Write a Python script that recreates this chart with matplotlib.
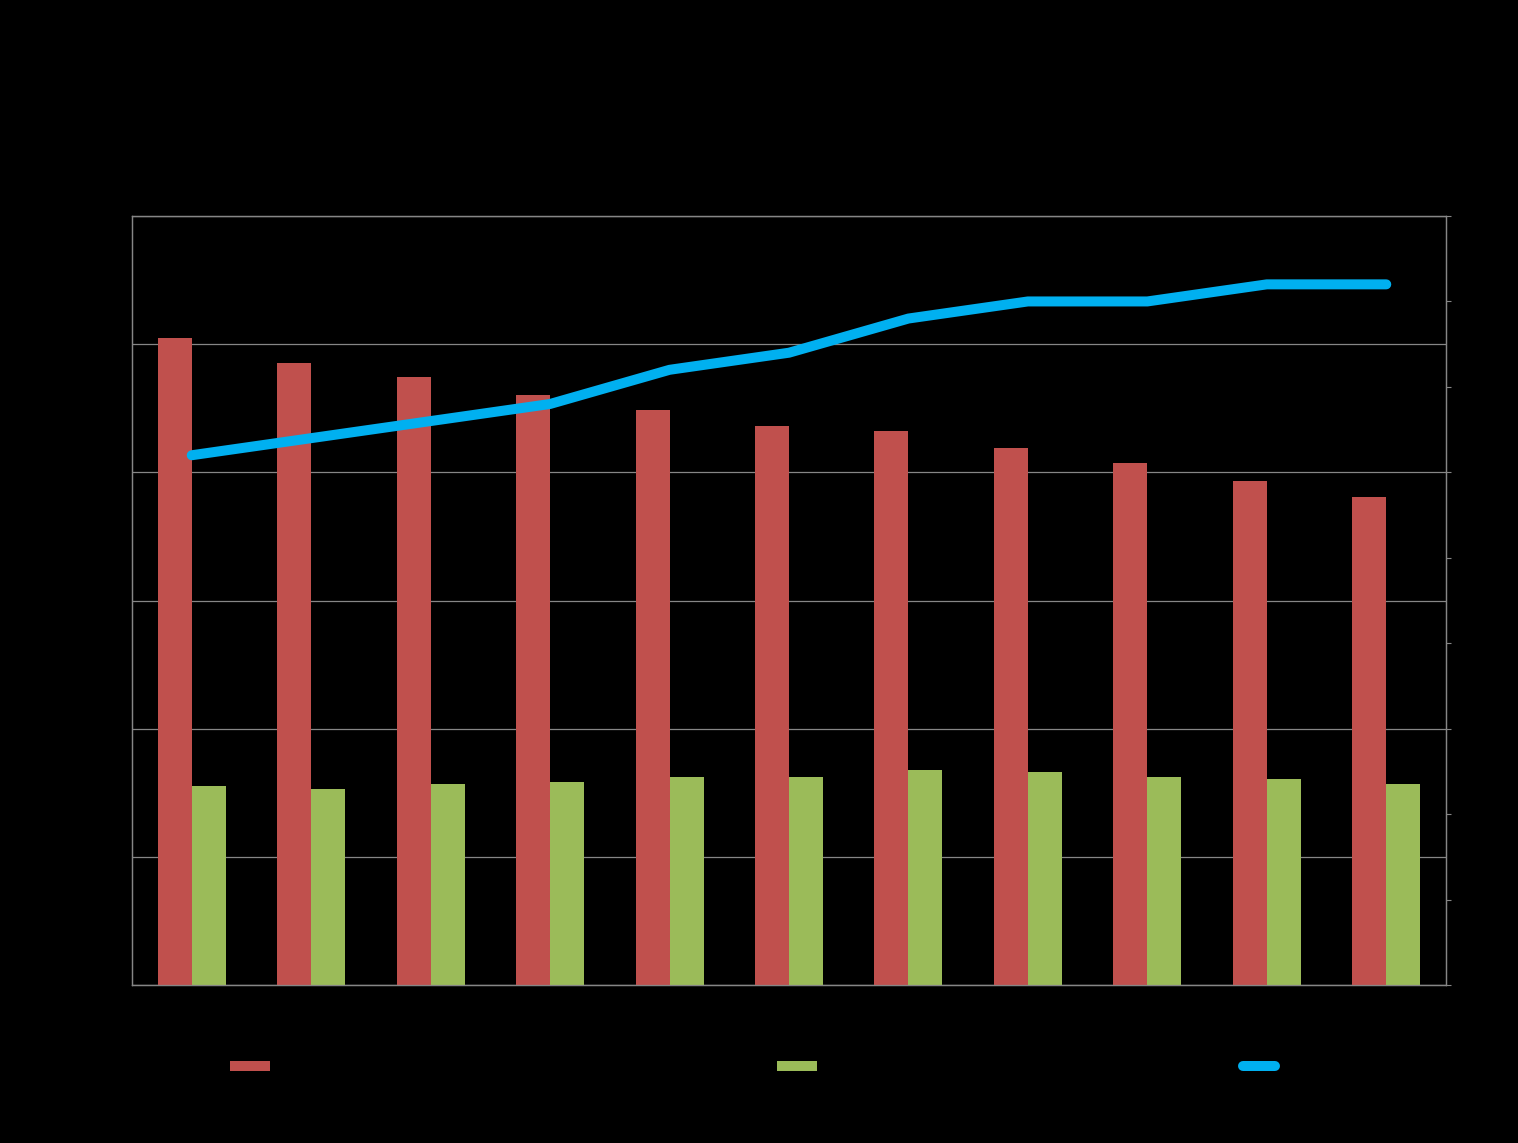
import numpy as np
import matplotlib
matplotlib.use("Agg")
import matplotlib.pyplot as plt

# dados
anos = ["2000", "2001", "2002", "2003", "2004", "2005", "2006", "2007", "2008", "2009", "2010"]
serie_vermelha = [50.5, 48.5, 47.4, 46.0, 44.9, 43.6, 43.2, 41.9, 40.7, 39.3, 38.1]
serie_verde = [15.5, 15.3, 15.7, 15.8, 16.2, 16.2, 16.8, 16.6, 16.2, 16.1, 15.7]
serie_azul = [62, 64, 66, 68, 72, 74, 78, 80, 80, 82, 82]
nomes = ["Serie 1", "Serie 2", "Serie 3"]

vermelho = "#C0504D"
verde = "#9BBB59"
azul = "#00B0F0"
cinza = "#868686"

fig = plt.figure(figsize=(15.18, 11.43), dpi=100, facecolor="black")
ax = fig.add_axes([132 / 1518, 158 / 1143, 1314 / 1518, 769 / 1143])
ax.set_facecolor("black")

x = np.arange(len(anos))
w = 0.285
b1 = ax.bar(x - w / 2, serie_vermelha, w, color=vermelho, zorder=3)
b2 = ax.bar(x + w / 2, serie_verde, w, color=verde, zorder=3)

ax.set_xlim(-0.5, len(anos) - 0.5)
ax.set_ylim(0, 60)
ax.set_yticks(np.arange(0, 61, 10))
ax.set_xticks(x)
ax.set_xticklabels(anos, color="black")
ax.grid(axis="y", color=cinza, linewidth=0.9, zorder=0)
ax.tick_params(axis="both", length=0, colors="black")
for s in ax.spines.values():
    s.set_color(cinza)
    s.set_linewidth(0.9)

ax2 = ax.twinx()
ax2.set_ylim(0, 90)
ax2.set_yticks(np.arange(0, 91, 10))
(l1,) = ax2.plot(x, serie_azul, color=azul, linewidth=7.2, solid_capstyle="round",
                 solid_joinstyle="round", zorder=4)
ax2.tick_params(axis="y", direction="out", length=3.6, color=cinza, labelcolor="black")
for s in ax2.spines.values():
    s.set_color(cinza)
    s.set_linewidth(0.9)

# legenda em tres partes
posicoes = [230 / 1518, 777 / 1518, 1243 / 1518]
handles = [b1, b2, l1]
for h, nome, px in zip(handles, nomes, posicoes):
    hl = 2.9 if h is not l1 else 2.3
    fig.legend([h], [nome], loc="center left", bbox_to_anchor=(px, 76 / 1143),
               frameon=False, borderpad=0, borderaxespad=0, handlelength=hl,
               handleheight=0.8, fontsize=10, labelcolor="black")

fig.savefig("out.png", dpi=100, facecolor="black")
